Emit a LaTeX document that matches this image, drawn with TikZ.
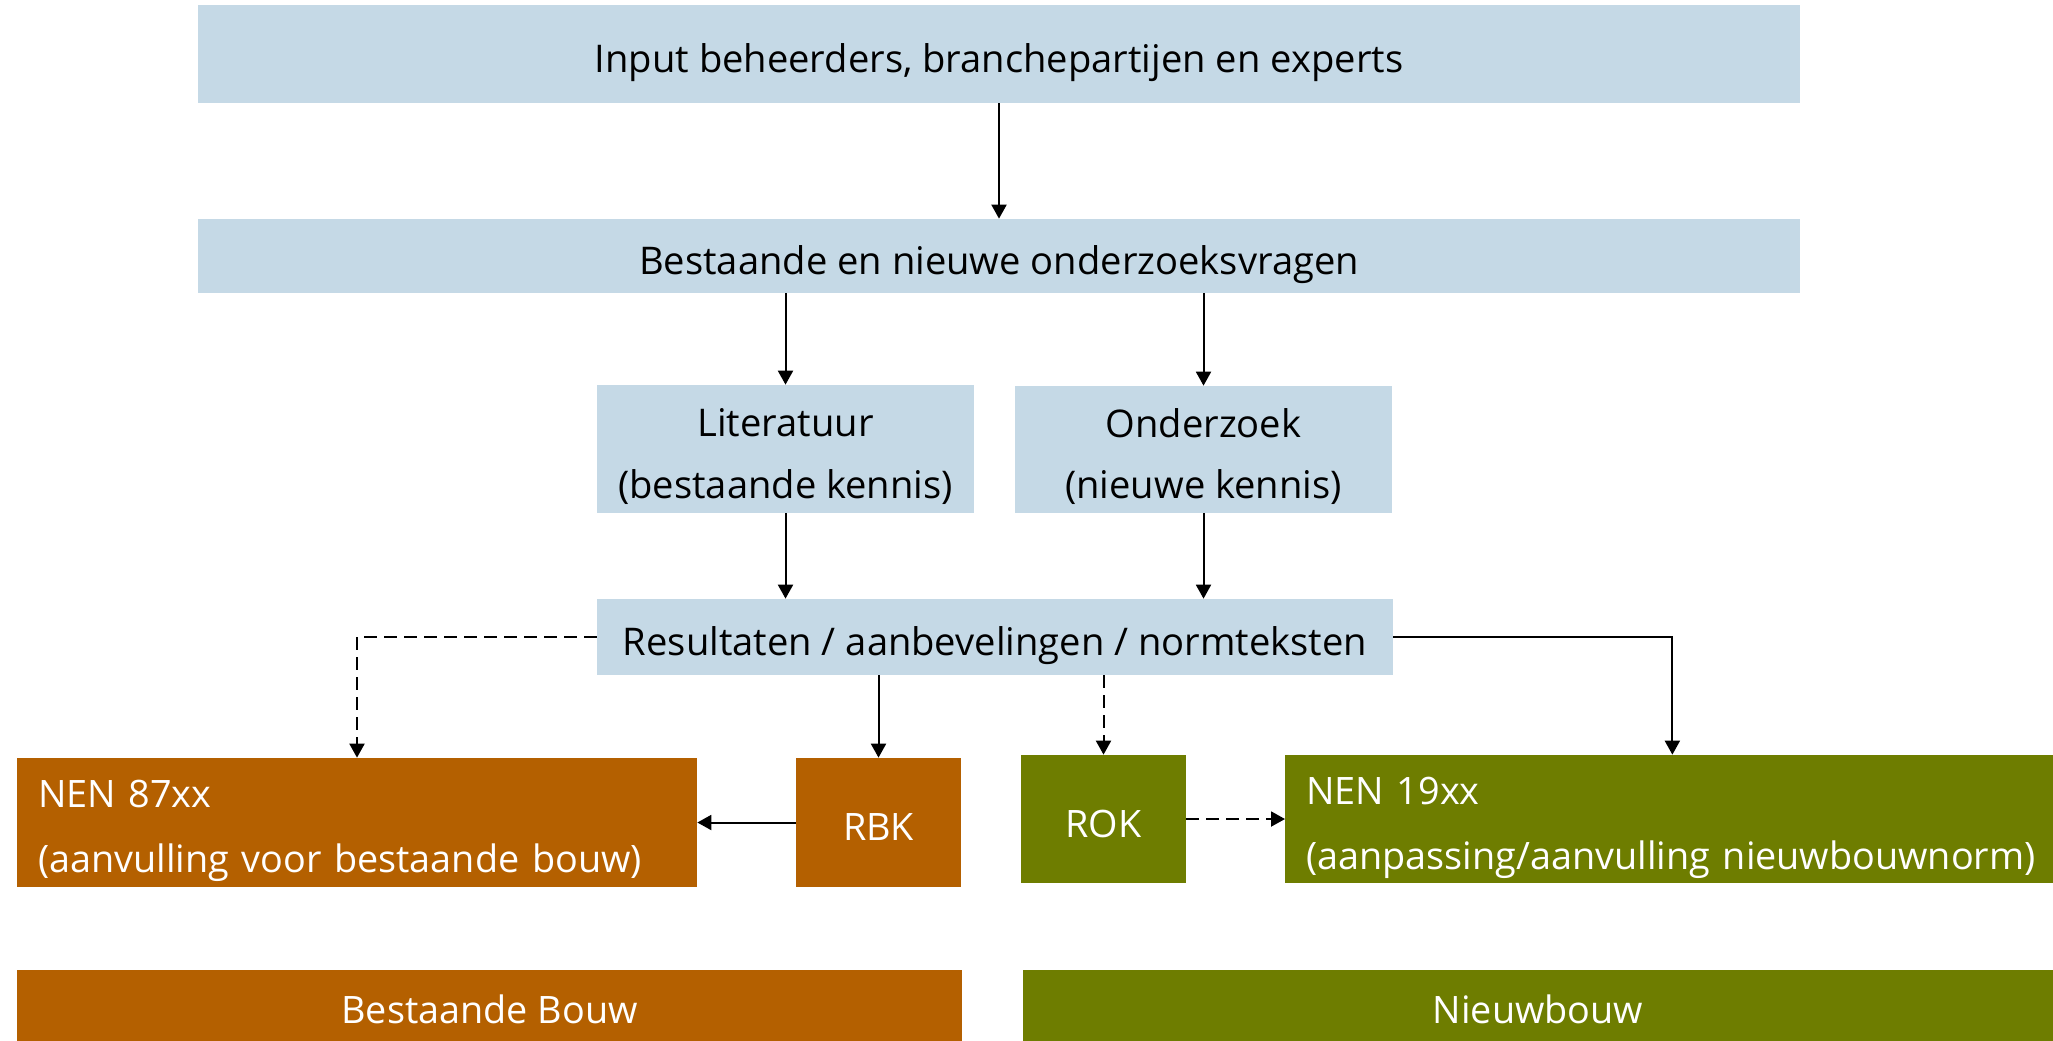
\documentclass[tikz,border=0pt]{standalone}
\usepackage{fontspec}
\setmainfont{Open Sans}
\usepackage{xcolor}
\usepackage{tikz}
\usetikzlibrary{positioning,calc,arrows.meta}

\definecolor{lichtblauw}{RGB}{197,217,230}
\definecolor{oranje}{RGB}{180,96,0}
\definecolor{olijf}{RGB}{110,125,0}

\tikzset{
    blok/.style={fill=lichtblauw, inner sep=0pt, align=center, font=\fontsize{21.7}{35}\selectfont, text height=0.78cm, text depth=0.06cm},
    oblok/.style={fill=oranje, text=white, inner sep=0pt, align=center, font=\fontsize{21.5}{37}\selectfont, text height=0.78cm, text depth=0.06cm},
    gblok/.style={fill=olijf, text=white, inner sep=0pt, align=center, font=\fontsize{21.5}{37}\selectfont, text height=0.78cm, text depth=0.06cm},
    balk/.style={text height=0.52cm, text depth=0.06cm},
    tweeregels/.style={text height=1.98cm, text depth=0.02cm},
    normtekst/.style={align=left, inner xsep=0.42cm, text height=0.6cm, text depth=1.2cm},
    pijl/.style={-{Triangle[length=0.28cm,width=0.3cm]}, line width=0.04cm},
    stippel/.style={pijl, dash pattern=on 0.26cm off 0.14cm}
}

\begin{document}
\begin{tikzpicture}
    \useasboundingbox (0,0) rectangle (41.06,-20.8);
    % blokken bovenaan
    \node[blok, minimum width=32.04cm, minimum height=1.96cm] (input) at (19.98,-1.08) {Input beheerders, branchepartijen en experts};
    \node[blok, minimum width=32.04cm, minimum height=1.48cm] (vragen) at (19.98,-5.12) {Bestaande en nieuwe onderzoeksvragen};
    \node[blok, tweeregels, minimum width=7.54cm, minimum height=2.56cm] (lit) at (15.71,-8.98) {Literatuur\\(bestaande kennis)};
    \node[blok, tweeregels, minimum width=7.54cm, minimum height=2.54cm] (ond) at (24.07,-8.99) {Onderzoek\\(nieuwe kennis)};
    \node[blok, minimum width=15.92cm, minimum height=1.52cm] (res) at (19.90,-12.74) {Resultaten / aanbevelingen / normteksten};
    % normen
    \node[oblok, normtekst, text width=12.76cm, minimum height=2.58cm] (nen87) at (7.14,-16.45) {NEN 87xx\\(aanvulling voor bestaande bouw)};
    \node[oblok, minimum width=3.3cm, minimum height=2.58cm] (rbk) at (17.57,-16.45) {RBK};
    \node[gblok, minimum width=3.3cm, minimum height=2.56cm] (rok) at (22.07,-16.38) {ROK};
    \node[gblok, normtekst, anchor=west, text width=15.2cm, minimum height=2.56cm] (nen19) at (25.70,-16.38) {NEN 19xx\\(aanpassing/aanvulling nieuwbouwnorm)};
    % onderbalk
    \node[oblok, balk, minimum width=18.9cm, minimum height=1.68cm] (bb) at (9.79,-20.24) {Bestaande Bouw};
    \node[gblok, balk, minimum width=20.6cm, minimum height=1.68cm] (nb) at (30.76,-20.24) {Nieuwbouw};

    \draw[pijl] (input) -- (vragen);
    \draw[pijl] (lit.north |- vragen.south) -- (lit.north);
    \draw[pijl] (ond.north |- vragen.south) -- (ond.north);
    \draw[pijl] (lit) -- (lit.south |- res.north);
    \draw[pijl] (ond) -- (ond.south |- res.north);
    \draw[stippel] (res.west) -| (nen87.north);
    \draw[pijl] (rbk.north |- res.south) -- (rbk.north);
    \draw[stippel] (rok.north |- res.south) -- (rok.north);
    \draw[pijl] (res.east) -| ([xshift=-0.28cm]nen19.north);
    \draw[pijl] (rbk) -- (nen87);
    \draw[stippel] (rok) -- (nen19);
\end{tikzpicture}
\end{document}
